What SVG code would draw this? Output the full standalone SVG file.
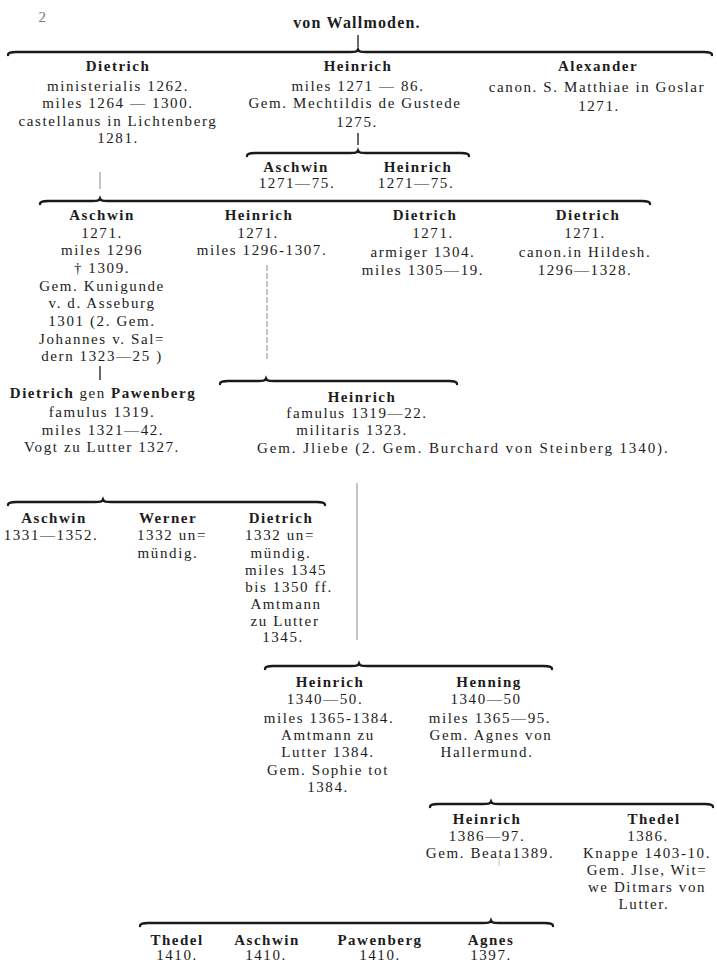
<svg xmlns="http://www.w3.org/2000/svg" width="717" height="963" viewBox="0 0 717 963">
<style>
text{font-family:"Liberation Serif","DejaVu Serif",serif;fill:#1c1c1c;text-anchor:middle}
.n{font-size:15px;font-weight:bold;letter-spacing:1.5px}
.t{font-size:15px;letter-spacing:1.6px}
.h{font-size:16px;font-weight:bold;letter-spacing:1.2px}
.br{fill:none;stroke:#1a1a1a;stroke-width:2.4;stroke-linecap:round}
.v{stroke:#2a2a2a;stroke-width:1.4}
.vl{stroke:#8a8a8a;stroke-width:1}
</style>
<rect width="717" height="963" fill="#ffffff"/>
<text x="43" y="22" class="t" style="fill:#777">2</text>
<g id="title"><text x="357" y="28" class="h">von Wallmoden.</text></g>

<g id="connectors">
<path class="br" d="M8,55 C8,52.5 11,52 16,52 L350,52 C355,52 357,52 358,49.5 C359,52 361,52 366,52 L704,52 C709,52 712,52.5 712,55"/>
<path class="br" d="M247,156 C247,153.5 250,153 255,153 L350,153 C355,153 357,153 358,150.5 C359,153 361,153 366,153 L461,153 C466,153 469,153.5 469,156"/>
<path class="br" d="M40,204 C40,201.5 43,201 48,201 L92,201 C97,201 99,201 100,198.5 C101,201 103,201 108,201 L642,201 C647,201 650,201.5 650,204"/>
<path class="br" d="M220,384 C220,381.5 223,381 228,381 L258,381 C263,381 265,381 266,378.5 C267,381 269,381 274,381 L449,381 C454,381 457,381.5 457,384"/>
<path class="br" d="M8,505 C8,502.5 11,502 16,502 L95,502 C100,502 102,502 103,499.5 C104,502 106,502 111,502 L317,502 C322,502 325,502.5 325,505"/>
<path class="br" d="M265,669 C265,666.5 268,666 273,666 L351,666 C356,666 358,666 359,663.5 C360,666 362,666 367,666 L544,666 C549,666 552,666.5 552,669"/>
<path class="br" d="M430,807 C430,804.5 433,804 438,804 L483,804 C488,804 490,804 491,801.5 C492,804 494,804 499,804 L705,804 C710,804 713,804.5 713,807"/>
<path class="br" d="M140,926 C140,923.5 143,923 148,923 L483,923 C488,923 490,923 491,920.5 C492,923 494,923 499,923 L545,923 C550,923 553,923.5 553,926"/>
<line class="v" x1="358" y1="35" x2="358" y2="47"/>
<line class="v" x1="358" y1="133" x2="358" y2="145"/>
<line class="vl" x1="100" y1="172" x2="100" y2="189"/>
<line class="vl" x1="267" y1="265" x2="267" y2="360" stroke-dasharray="6 2"/>
<line class="v" x1="100" y1="366" x2="100" y2="380"/>
<line class="vl" x1="357" y1="483" x2="357" y2="640"/>
<line x1="499" y1="856" x2="499" y2="866" stroke="#c4c4c4" stroke-width="1"/>
</g>

<g id="dietrich1">
<text x="118" y="71" class="n">Dietrich</text>
<text x="118" y="91" class="t">ministerialis 1262.</text>
<text x="118" y="108" class="t">miles 1264 — 1300.</text>
<text x="118" y="126" class="t">castellanus in Lichtenberg</text>
<text x="118" y="143" class="t">1281.</text>
</g>
<g id="heinrich1">
<text x="358" y="71" class="n">Heinrich</text>
<text x="358" y="91" class="t">miles 1271 — 86.</text>
<text x="355" y="108" class="t">Gem. Mechtildis de Gustede</text>
<text x="357" y="127" class="t">1275.</text>
</g>
<g id="alexander">
<text x="598" y="71" class="n">Alexander</text>
<text x="597" y="92" class="t">canon. S. Matthiae in Goslar</text>
<text x="599" y="111" class="t">1271.</text>
</g>

<g id="aschwin2">
<text x="296" y="172" class="n">Aschwin</text>
<text x="297" y="188" class="t">1271—75.</text>
</g>
<g id="heinrich2">
<text x="418" y="172" class="n">Heinrich</text>
<text x="416" y="188" class="t">1271—75.</text>
</g>

<g id="aschwin3">
<text x="102" y="220" class="n">Aschwin</text>
<text x="102" y="238" class="t">1271.</text>
<text x="102" y="255" class="t">miles 1296</text>
<text x="102" y="273" class="t">† 1309.</text>
<text x="102" y="291" class="t">Gem. Kunigunde</text>
<text x="102" y="308" class="t">v. d. Asseburg</text>
<text x="102" y="326" class="t">1301 (2. Gem.</text>
<text x="102" y="344" class="t">Johannes v. Sal=</text>
<text x="102" y="361" class="t">dern 1323—25 )</text>
</g>
<g id="heinrich3">
<text x="259" y="220" class="n">Heinrich</text>
<text x="258" y="238" class="t">1271.</text>
<text x="262" y="255" class="t">miles 1296-1307.</text>
</g>
<g id="dietrich3a">
<text x="425" y="220" class="n">Dietrich</text>
<text x="433" y="238" class="t">1271.</text>
<text x="423" y="257" class="t">armiger 1304.</text>
<text x="423" y="275" class="t">miles 1305—19.</text>
</g>
<g id="dietrich3b">
<text x="588" y="220" class="n">Dietrich</text>
<text x="585" y="238" class="t">1271.</text>
<text x="585" y="257" class="t">canon.in Hildesh.</text>
<text x="585" y="275" class="t">1296—1328.</text>
</g>

<g id="dietrich4">
<text x="103" y="398" class="n">Dietrich <tspan style="font-weight:normal">gen</tspan> Pawenberg</text>
<text x="102" y="417" class="t">famulus 1319.</text>
<text x="103" y="435" class="t">miles 1321—42.</text>
<text x="102" y="452" class="t">Vogt zu Lutter 1327.</text>
</g>
<g id="heinrich4">
<text x="362" y="402" class="n">Heinrich</text>
<text x="357" y="418" class="t">famulus 1319—22.</text>
<text x="352" y="435" class="t">militaris 1323.</text>
<text x="257" y="453" class="t" style="text-anchor:start;letter-spacing:1.9px">Gem. Jliebe (2. Gem. Burchard von Steinberg 1340).</text>
</g>

<g id="aschwin5">
<text x="54" y="523" class="n">Aschwin</text>
<text x="51" y="540" class="t">1331—1352.</text>
</g>
<g id="werner">
<text x="168" y="523" class="n">Werner</text>
<text x="172" y="540" class="t">1332 un=</text>
<text x="168" y="558" class="t">mündig.</text>
</g>
<g id="dietrich5">
<text x="281" y="523" class="n">Dietrich</text>
<text x="280" y="540" class="t">1332 un=</text>
<text x="281" y="558" class="t">mündig.</text>
<text x="286" y="575" class="t">miles 1345</text>
<text x="289" y="592" class="t">bis 1350 ff.</text>
<text x="286" y="609" class="t">Amtmann</text>
<text x="285" y="626" class="t">zu Lutter</text>
<text x="283" y="642" class="t">1345.</text>
</g>

<g id="heinrich6">
<text x="330" y="687" class="n">Heinrich</text>
<text x="325" y="704" class="t">1340—50.</text>
<text x="329" y="723" class="t">miles 1365-1384.</text>
<text x="328" y="740" class="t">Amtmann zu</text>
<text x="328" y="757" class="t">Lutter 1384.</text>
<text x="328" y="775" class="t">Gem. Sophie tot</text>
<text x="328" y="792" class="t">1384.</text>
</g>
<g id="henning">
<text x="489" y="687" class="n">Henning</text>
<text x="486" y="704" class="t">1340—50</text>
<text x="490" y="723" class="t">miles 1365—95.</text>
<text x="491" y="740" class="t">Gem. Agnes von</text>
<text x="487" y="757" class="t">Hallermund.</text>
</g>

<g id="heinrich7">
<text x="487" y="824" class="n">Heinrich</text>
<text x="487" y="841" class="t">1386—97.</text>
<text x="490" y="858" class="t">Gem. Beata1389.</text>
</g>
<g id="thedel7">
<text x="654" y="824" class="n">Thedel</text>
<text x="648" y="841" class="t">1386.</text>
<text x="647" y="858" class="t">Knappe 1403-10.</text>
<text x="647" y="875" class="t">Gem. Jlse, Wit=</text>
<text x="647" y="892" class="t">we Ditmars von</text>
<text x="644" y="909" class="t">Lutter.</text>
</g>

<g id="thedel8">
<text x="177" y="945" class="n">Thedel</text>
<text x="177" y="960" class="t">1410.</text>
</g>
<g id="aschwin8">
<text x="267" y="945" class="n">Aschwin</text>
<text x="266" y="960" class="t">1410.</text>
</g>
<g id="pawenberg8">
<text x="380" y="945" class="n">Pawenberg</text>
<text x="380" y="960" class="t">1410.</text>
</g>
<g id="agnes8">
<text x="491" y="945" class="n">Agnes</text>
<text x="491" y="960" class="t">1397.</text>
</g>
</svg>
